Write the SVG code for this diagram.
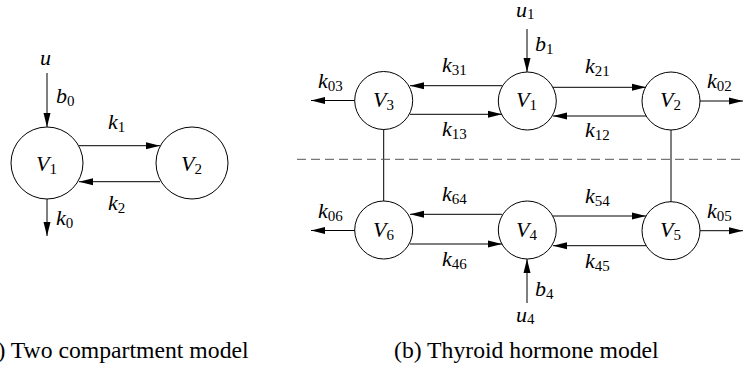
<svg xmlns="http://www.w3.org/2000/svg" width="744" height="369" viewBox="0 0 744 369">
<style>
.n{fill:#fff;stroke:#000;stroke-width:1}
.e{stroke:#000;stroke-width:1;fill:none}
.a{marker-end:url(#ah)}
text{font-family:'Liberation Serif','DejaVu Serif','Noto Serif',Times,serif;fill:#000}
.lbl{font-style:italic;font-size:22px}
.sub{font-style:normal;font-size:15px}
.cap{font-size:23.7px}
.dash{stroke:#555;stroke-width:1;stroke-dasharray:9,5}
</style>
<defs>
<marker id="ah" markerUnits="userSpaceOnUse" markerWidth="14" markerHeight="8" refX="14" refY="4" orient="auto">
<path d="M0,0.5 L14,4 L0,7.5 z" fill="#000"/>
</marker>
</defs>
<g id="connectors">
<line class="e a" x1="47" y1="73" x2="47" y2="127"/>
<line class="e a" x1="79" y1="145.7" x2="160" y2="145.7"/>
<line class="e a" x1="160" y1="181.7" x2="79" y2="181.7"/>
<line class="e a" x1="47" y1="199" x2="47" y2="236"/>
<line class="e a" x1="527" y1="29" x2="527" y2="72"/>
<line class="e a" x1="502" y1="85.7" x2="410" y2="85.7"/>
<line class="e a" x1="410" y1="114.3" x2="502" y2="114.3"/>
<line class="e a" x1="553" y1="87.3" x2="646" y2="87.3"/>
<line class="e a" x1="646" y1="116" x2="553" y2="116"/>
<line class="e a" x1="355" y1="100.5" x2="311" y2="100.5"/>
<line class="e a" x1="700" y1="101" x2="743" y2="101"/>
<line class="e" x1="383.7" y1="129" x2="383.7" y2="201"/>
<line class="e" x1="671" y1="130" x2="671" y2="202"/>
<line class="e a" x1="502" y1="214.3" x2="410" y2="214.3"/>
<line class="e a" x1="410" y1="244" x2="502" y2="244"/>
<line class="e a" x1="553" y1="216" x2="646" y2="216"/>
<line class="e a" x1="646" y1="245.7" x2="553" y2="245.7"/>
<line class="e a" x1="355" y1="230.5" x2="311" y2="230.5"/>
<line class="e a" x1="700" y1="230.7" x2="743" y2="230.7"/>
<line class="e a" x1="527" y1="303" x2="527" y2="259"/>
<line class="dash" x1="297" y1="159.3" x2="744" y2="159.3"/>
</g>
<g id="a_V1"><circle class="n" cx="47" cy="163" r="36"/><text class="lbl" x="36" y="171">V<tspan class="sub" dy="3">1</tspan></text></g>
<g id="a_V2"><circle class="n" cx="192" cy="163" r="36"/><text class="lbl" x="181" y="171">V<tspan class="sub" dy="3">2</tspan></text></g>
<g id="b_V3"><circle class="n" cx="383.7" cy="100.5" r="29"/><text class="lbl" x="373" y="107">V<tspan class="sub" dy="3">3</tspan></text></g>
<g id="b_V1"><circle class="n" cx="527.3" cy="101" r="29"/><text class="lbl" x="516" y="107">V<tspan class="sub" dy="3">1</tspan></text></g>
<g id="b_V2"><circle class="n" cx="671" cy="101" r="29"/><text class="lbl" x="660" y="107">V<tspan class="sub" dy="3">2</tspan></text></g>
<g id="b_V6"><circle class="n" cx="383.7" cy="230" r="29"/><text class="lbl" x="373" y="237">V<tspan class="sub" dy="3">6</tspan></text></g>
<g id="b_V4"><circle class="n" cx="527.3" cy="230" r="29"/><text class="lbl" x="516" y="237">V<tspan class="sub" dy="3">4</tspan></text></g>
<g id="b_V5"><circle class="n" cx="671" cy="230.7" r="29"/><text class="lbl" x="660" y="237">V<tspan class="sub" dy="3">5</tspan></text></g>
<g id="labels">
<text class="lbl" x="40" y="65">u</text>
<text class="lbl" x="56" y="103">b<tspan class="sub" dy="3">0</tspan></text>
<text class="lbl" x="108" y="129">k<tspan class="sub" dy="3">1</tspan></text>
<text class="lbl" x="108" y="210">k<tspan class="sub" dy="3">2</tspan></text>
<text class="lbl" x="56" y="225">k<tspan class="sub" dy="3">0</tspan></text>
<text class="lbl" x="516" y="17">u<tspan class="sub" dy="2">1</tspan></text>
<text class="lbl" x="535" y="51">b<tspan class="sub" dy="3">1</tspan></text>
<text class="lbl" x="442" y="72">k<tspan class="sub" dy="3">31</tspan></text>
<text class="lbl" x="442" y="136">k<tspan class="sub" dy="3">13</tspan></text>
<text class="lbl" x="585" y="73">k<tspan class="sub" dy="3">21</tspan></text>
<text class="lbl" x="585" y="137">k<tspan class="sub" dy="3">12</tspan></text>
<text class="lbl" x="318" y="88">k<tspan class="sub" dy="3">03</tspan></text>
<text class="lbl" x="707" y="88">k<tspan class="sub" dy="3">02</tspan></text>
<text class="lbl" x="442" y="201">k<tspan class="sub" dy="3">64</tspan></text>
<text class="lbl" x="442" y="266">k<tspan class="sub" dy="3">46</tspan></text>
<text class="lbl" x="585" y="203">k<tspan class="sub" dy="3">54</tspan></text>
<text class="lbl" x="585" y="268">k<tspan class="sub" dy="3">45</tspan></text>
<text class="lbl" x="318" y="218">k<tspan class="sub" dy="3">06</tspan></text>
<text class="lbl" x="707" y="218">k<tspan class="sub" dy="3">05</tspan></text>
<text class="lbl" x="535" y="296">b<tspan class="sub" dy="3">4</tspan></text>
<text class="lbl" x="516" y="322">u<tspan class="sub" dy="2">4</tspan></text>
<text class="cap" x="-21" y="358">(a) Two compartment model</text>
<text class="cap" x="394" y="358">(b) Thyroid hormone model</text>
</g>
</svg>
